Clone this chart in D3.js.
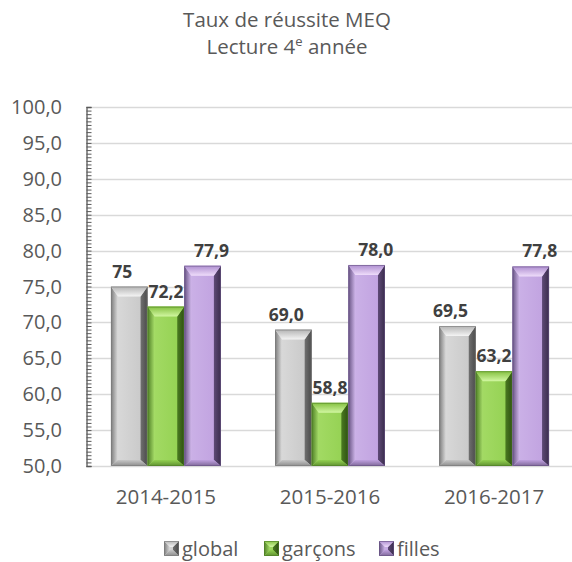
<!DOCTYPE html>
<html>
<head>
<meta charset="utf-8">
<script src="https://cdn.jsdelivr.net/npm/d3@7"></script>
<style>
  body { margin: 0; background: #fff; }
  svg { font-family: "Open Sans", "Noto Sans", sans-serif; }
</style>
</head>
<body>
<svg id="chart" width="572" height="562"></svg>
<script>
// data
const years = ["2014-2015", "2015-2016", "2016-2017"];
const seriesNames = ["global", "garçons", "filles"];
const globalVals = [75, 69.0, 69.5];
const garconsVals = [72.2, 58.8, 63.2];
const fillesVals = [77.9, 78.0, 77.8];
const labelTexts = [
    ["75", "69,0", "69,5"],
    ["72,2", "58,8", "63,2"],
    ["77,9", "78,0", "77,8"]
];
const yTicks = [50, 55, 60, 65, 70, 75, 80, 85, 90, 95, 100];

const palette = {
    global:  { id: "gl", face: "#c6c6c6", light: "#dcdcdc", top: "#f4f4f4", topOuter: "#b4b4b4", dark: "#707070", darkEdge: "#4a4a4a", bottom: "#8c8c8c", edge: "#7a7a7a" },
    "garçons": { id: "ga", face: "#92d050", light: "#a6dc68", top: "#d2f7a2", topOuter: "#84c040", dark: "#4a7a20", darkEdge: "#2e5012", bottom: "#5e9030", edge: "#4f7f26" },
    filles:  { id: "fi", face: "#bfa0df", light: "#cdb4e8", top: "#eedcfa", topOuter: "#ae8ed0", dark: "#5e4a76", darkEdge: "#3a2c4c", bottom: "#7e6898", edge: "#665282" }
};

const svg = d3.select("#chart");
const defs = svg.append("defs");

function linGrad(id, x1, y1, x2, y2, c1, c2) {
    const g = defs.append("linearGradient")
        .attr("id", id)
        .attr("x1", x1).attr("y1", y1).attr("x2", x2).attr("y2", y2);
    g.append("stop").attr("offset", "0%").attr("stop-color", c1);
    g.append("stop").attr("offset", "100%").attr("stop-color", c2);
}

Object.values(palette).forEach(c => {
    linGrad(c.id + "-top", 0, 0, 0, 1, c.topOuter, c.top);
    linGrad(c.id + "-left", 0, 0, 1, 0, c.edge, c.light);
    linGrad(c.id + "-right", 0, 0, 1, 0, c.dark, c.darkEdge);
    linGrad(c.id + "-bottom", 0, 0, 0, 1, c.face, c.bottom);
    linGrad(c.id + "-face", 0, 0, 1, 0, c.light, c.face);
});

const x = d3.scaleBand()
    .domain(years)
    .range([86, 574])
    .paddingInner(0.33)
    .paddingOuter(0.152);

const xs = d3.scaleBand()
    .domain(seriesNames)
    .range([0, x.bandwidth()]);

const y = d3.scaleLinear()
    .domain([50, 100])
    .range([466, 107]);

// title
const title = svg.append("text")
    .attr("text-anchor", "middle")
    .attr("fill", "#595959")
    .attr("font-size", "20.5px");
title.append("tspan")
    .attr("x", 287).attr("y", 27)
    .text("Taux de réussite MEQ");
const t2 = title.append("tspan").attr("x", 287).attr("y", 54);
t2.append("tspan").text("Lecture 4");
t2.append("tspan").attr("font-size", "13px").attr("dy", -8).text("e");
t2.append("tspan").attr("dy", 8).text(" année");

// gridlines
svg.append("g")
    .selectAll("line")
    .data(yTicks)
    .join("line")
    .attr("x1", 86)
    .attr("x2", 572)
    .attr("y1", d => Math.round(y(d)) + 0.5)
    .attr("y2", d => Math.round(y(d)) + 0.5)
    .attr("stroke", "#d9d9d9")
    .attr("stroke-width", 1.3);

// y axis
const yAxis = svg.append("g")
    .attr("transform", "translate(86.5,0)")
    .call(d3.axisRight(y).tickValues(d3.range(50, 100.01, 0.5)).tickSize(5).tickFormat(""));
yAxis.select(".domain").attr("stroke", "#595959").attr("stroke-width", 1.3);
yAxis.selectAll(".tick line").attr("stroke", "#595959");
yAxis.selectAll(".tick text").remove();

svg.append("g")
    .selectAll("text")
    .data(yTicks)
    .join("text")
    .attr("x", 62)
    .attr("y", d => y(d))
    .attr("dy", "0.35em")
    .attr("text-anchor", "end")
    .attr("fill", "#595959")
    .attr("font-size", "20px")
    .text(d => d3.format(".1f")(d).replace(".", ","));

// x labels
svg.append("g")
    .selectAll("text")
    .data(years)
    .join("text")
    .attr("x", d => x(d) + x.bandwidth() / 2)
    .attr("y", 504)
    .attr("text-anchor", "middle")
    .attr("fill", "#595959")
    .attr("font-size", "20.5px")
    .text(d => d);

function bevelBar(g, x0, x1, y0, y1, c, bs, bt, bb) {
    bt = Math.min(bt, (y1 - y0) / 2);
    bb = Math.min(bb, (y1 - y0) / 2);
    bs = Math.min(bs, (x1 - x0) / 2);
    g.append("rect")
        .attr("x", x0).attr("y", y0)
        .attr("width", x1 - x0).attr("height", y1 - y0)
        .attr("fill", `url(#${c.id}-face)`);
    g.append("polygon")
        .attr("points", [[x0, y0], [x0 + bs, y0 + bt], [x0 + bs, y1 - bb], [x0, y1]].join(" "))
        .attr("fill", `url(#${c.id}-left)`);
    g.append("polygon")
        .attr("points", [[x1, y0], [x1, y1], [x1 - bs, y1 - bb], [x1 - bs, y0 + bt]].join(" "))
        .attr("fill", `url(#${c.id}-right)`);
    g.append("polygon")
        .attr("points", [[x0, y1], [x0 + bs, y1 - bb], [x1 - bs, y1 - bb], [x1, y1]].join(" "))
        .attr("fill", `url(#${c.id}-bottom)`);
    g.append("polygon")
        .attr("points", [[x0, y0], [x1, y0], [x1 - bs, y0 + bt], [x0 + bs, y0 + bt]].join(" "))
        .attr("fill", `url(#${c.id}-top)`);
    g.append("rect")
        .attr("x", x0 + 0.5).attr("y", y0 + 0.5)
        .attr("width", x1 - x0 - 1).attr("height", y1 - y0 - 1)
        .attr("fill", "none")
        .attr("stroke", c.edge)
        .attr("stroke-opacity", 0.6)
        .attr("stroke-width", 1);
}

// bars
const allVals = [globalVals, garconsVals, fillesVals];
const bars = svg.append("g");
seriesNames.forEach((s, si) => {
    allVals[si].forEach((v, i) => {
        const x0 = x(years[i]) + xs(s);
        const x1 = x0 + xs.bandwidth();
        bevelBar(bars.append("g"), x0, x1, y(v), y(50), palette[s], 7, 10, 6);
    });
});

// data labels
const labelShift = [-7, 0, 9];
const labels = svg.append("g");
seriesNames.forEach((s, si) => {
    allVals[si].forEach((v, i) => {
        labels.append("text")
            .attr("x", x(years[i]) + xs(s) + xs.bandwidth() / 2 + labelShift[si])
            .attr("y", y(v) - 9)
            .attr("text-anchor", "middle")
            .attr("fill", "#404040")
            .attr("font-size", "17.5px")
            .attr("font-weight", "bold")
            .text(labelTexts[si][i]);
    });
});

// legend
const legendX = [164, 264, 379];
const legend = svg.append("g");
seriesNames.forEach((s, si) => {
    const g = legend.append("g");
    bevelBar(g, legendX[si], legendX[si] + 15, 541, 556, palette[s], 6, 6, 6);
    legend.append("text")
        .attr("x", legendX[si] + 18)
        .attr("y", 556)
        .attr("fill", "#595959")
        .attr("font-size", "20px")
        .text(s);
});
</script>
</body>
</html>
